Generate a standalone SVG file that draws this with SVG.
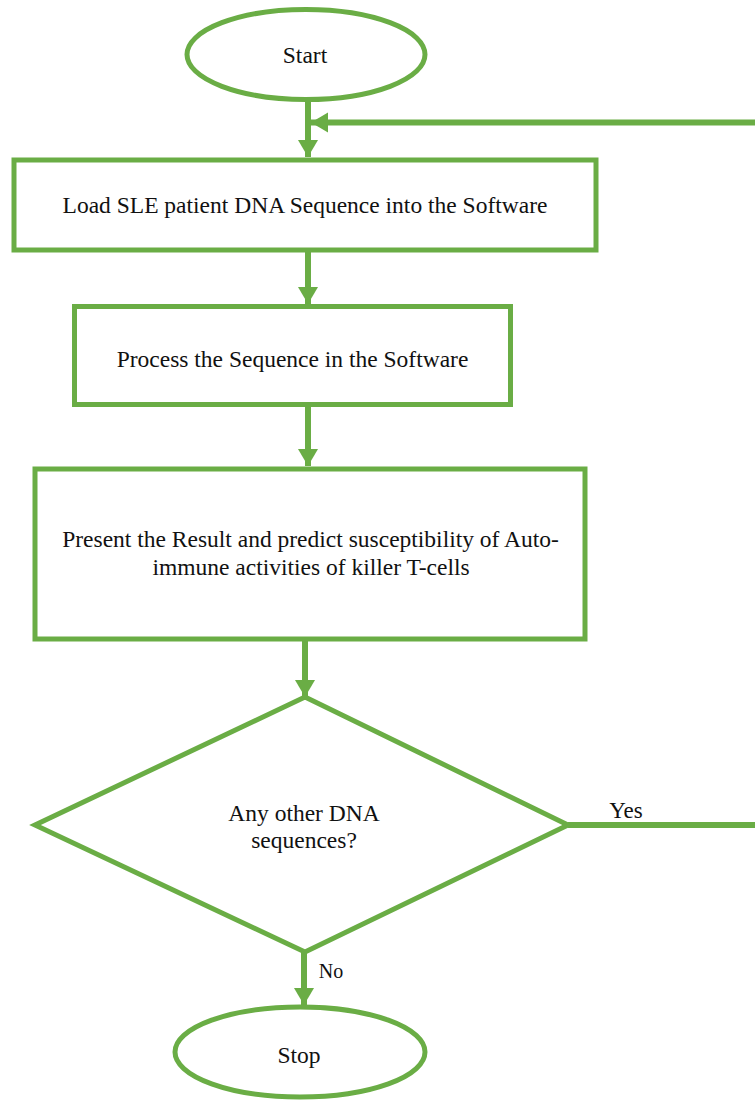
<svg xmlns="http://www.w3.org/2000/svg" width="755" height="1100" viewBox="0 0 755 1100">
<style>
.shape{fill:#fff;stroke:#6AAD45;stroke-width:5}
.conn{fill:none;stroke:#6AAD45;stroke-width:6}
text{fill:#111}
.t{font-size:23.5px;text-anchor:middle}
</style>
<defs>
<marker id="ah" markerUnits="userSpaceOnUse" markerWidth="18" markerHeight="21" refX="17" refY="10" orient="auto">
<path d="M0,0 L17,10 L0,20 z" fill="#6AAD45"/>
</marker>
</defs>
<rect width="755" height="1100" fill="#fff"/>
<g id="connectors">
<line class="conn" x1="308" y1="100" x2="308" y2="157" marker-end="url(#ah)"/>
<line class="conn" x1="308" y1="250" x2="308" y2="304" marker-end="url(#ah)"/>
<line class="conn" x1="308" y1="404" x2="308" y2="466" marker-end="url(#ah)"/>
<line class="conn" x1="305" y1="639" x2="305" y2="697" marker-end="url(#ah)"/>
<line class="conn" x1="304" y1="952" x2="304" y2="1005" marker-end="url(#ah)"/>
<path class="conn" d="M568,825 H758.5 V122.5 H311" marker-end="url(#ah)"/>
<text font-family="'Liberation Serif', 'Times New Roman', 'DejaVu Serif', serif" x="626" y="818" font-size="23" text-anchor="middle">Yes</text>
<text font-family="'Liberation Serif', 'Times New Roman', 'DejaVu Serif', serif" x="331" y="978" font-size="20" text-anchor="middle">No</text>
</g>
<g id="start">
<ellipse class="shape" cx="306" cy="54.5" rx="119" ry="45"/>
<text class="t" font-family="'Liberation Serif', 'Times New Roman', 'DejaVu Serif', serif" x="305" y="63">Start</text>
</g>
<g id="load">
<rect class="shape" x="14" y="160" width="582" height="90"/>
<text class="t" font-family="'Liberation Serif', 'Times New Roman', 'DejaVu Serif', serif" x="305" y="213">Load SLE patient DNA Sequence into the Software</text>
</g>
<g id="process">
<rect class="shape" x="74.5" y="306.5" width="436" height="98"/>
<text class="t" font-family="'Liberation Serif', 'Times New Roman', 'DejaVu Serif', serif" x="292.5" y="367">Process the Sequence in the Software</text>
</g>
<g id="present">
<rect class="shape" x="35" y="469" width="550" height="170"/>
<text class="t" font-family="'Liberation Serif', 'Times New Roman', 'DejaVu Serif', serif" x="310.5" y="547">Present the Result and predict susceptibility of Auto-</text>
<text class="t" font-family="'Liberation Serif', 'Times New Roman', 'DejaVu Serif', serif" x="311" y="575">immune activities of killer T-cells</text>
</g>
<g id="decision">
<polygon class="shape" points="305,697 568,825 305,952 35,825"/>
<text class="t" font-family="'Liberation Serif', 'Times New Roman', 'DejaVu Serif', serif" x="304" y="821">Any other DNA</text>
<text class="t" font-family="'Liberation Serif', 'Times New Roman', 'DejaVu Serif', serif" x="304" y="848">sequences?</text>
</g>
<g id="stop">
<ellipse class="shape" cx="300" cy="1052" rx="125" ry="45"/>
<text class="t" font-family="'Liberation Serif', 'Times New Roman', 'DejaVu Serif', serif" x="299" y="1063">Stop</text>
</g>
</svg>
